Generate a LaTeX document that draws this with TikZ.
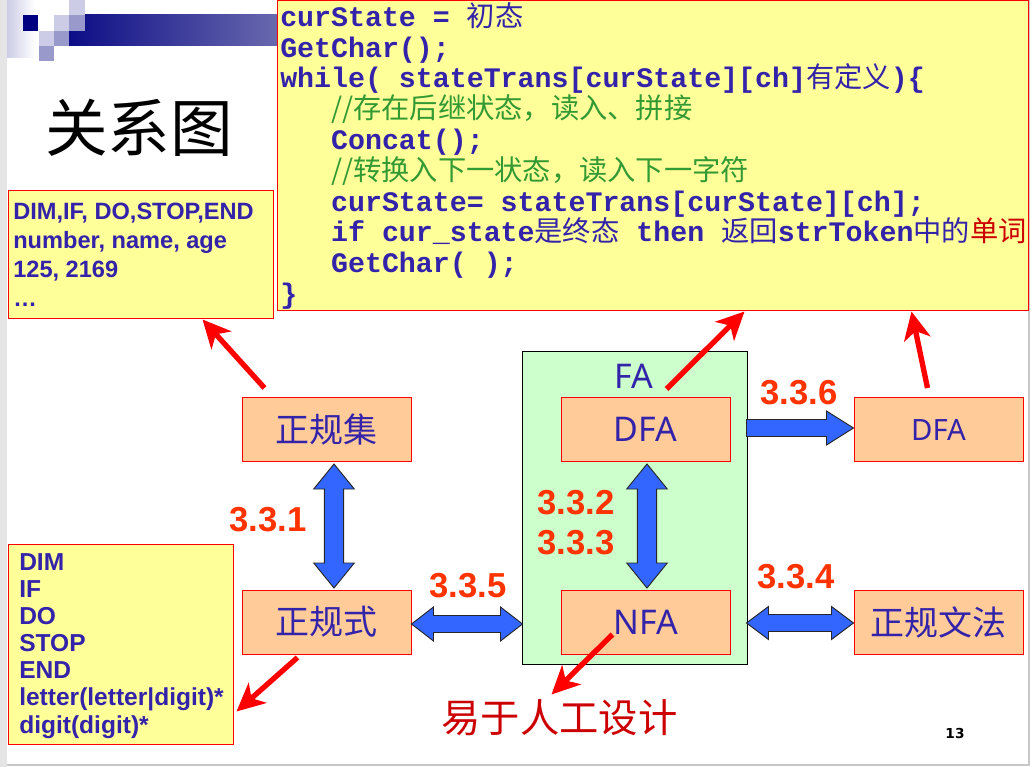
\documentclass[tikz,border=0pt]{standalone}
\usepackage{fontspec}
\setmainfont{Liberation Sans}
\newfontfamily\cjk{Noto Sans CJK SC}
\newfontfamily\latinsans{Noto Sans}
\newfontfamily\codefont{Liberation Mono}
\newfontfamily\numfont{DejaVu Sans}
\usetikzlibrary{arrows.meta,calc}

\definecolor{txtblue}{HTML}{3322AA}
\definecolor{cmtgreen}{HTML}{339933}
\definecolor{wordred}{HTML}{CC0000}
\definecolor{lblred}{HTML}{FF3300}
\definecolor{notefill}{HTML}{FFFF99}
\definecolor{boxfill}{HTML}{FFCC99}
\definecolor{fafill}{HTML}{CCFFCC}
\definecolor{blockblue}{HTML}{3366FF}
\definecolor{navy}{HTML}{000080}
\definecolor{barend}{HTML}{6868AE}
\definecolor{lav}{HTML}{CCCCE6}
\definecolor{lavmid}{HTML}{9999CC}

% CJK run inside a Latin line
\newcommand\zh[1]{{\mdseries\cjk #1}}
% three-character indent of the code font
\newcommand\ind{\hspace*{1.8em}}

% block arrows, drawn in pixel units from a tip point
\newcommand\vdblarrow[2]{% #1 top tip, #2 length
  \draw[blockarrow, shift={(#1)}] (0,0) -- (20.3,25) -- (9.7,25) -- (9.7,#2-25)
    -- (20.3,#2-25) -- (0,#2) -- (-20.3,#2-25) -- (-9.7,#2-25) -- (-9.7,25)
    -- (-20.3,25) -- cycle;}
\newcommand\hdblarrow[5]{% #1 left tip, #2 length, #3 shaft half, #4 head half, #5 head length
  \draw[blockarrow, shift={(#1)}] (0,0) -- (#5,-#4) -- (#5,-#3) -- (#2-#5,-#3)
    -- (#2-#5,-#4) -- (#2,0) -- (#2-#5,#4) -- (#2-#5,#3) -- (#5,#3) -- (#5,#4) -- cycle;}
\newcommand\hsglarrow[5]{% #1 tail centre, #2 length, #3 shaft half, #4 head half, #5 head length
  \draw[blockarrow, shift={(#1)}] (0,-#3) -- (#2-#5,-#3) -- (#2-#5,-#4) -- (#2,0)
    -- (#2-#5,#4) -- (#2-#5,#3) -- (0,#3) -- cycle;}

\tikzset{
  blockarrow/.style={fill=blockblue, draw=black!85, line width=0.7pt, line join=miter},
  stage/.style={draw=red, fill=boxfill, line width=0.75pt, minimum width=126.75pt,
    minimum height=48pt, inner sep=0pt, text=txtblue,
    font=\cjk\fontsize{25.5pt}{25.5pt}\selectfont},
  latinstage/.style={stage, font=\latinsans\fontsize{25.5pt}{25.5pt}\selectfont},
  note/.style={draw=red, fill=notefill, line width=0.75pt, inner sep=0pt},
  notetext/.style={inner sep=0pt, align=left, text=txtblue, anchor=west},
  lbl/.style={inner sep=0pt, text=lblred, font=\bfseries\fontsize{26pt}{26pt}\selectfont},
  pointer/.style={draw=red, line width=4pt, -{Stealth[length=21pt,width=20pt,inset=6pt]}},
}

\begin{document}
\begin{tikzpicture}[x=0.75pt,y=-0.75pt]
\useasboundingbox (0,0) rectangle (1032,767);

% slide background and frame
\fill[white] (0,0) rectangle (1032,767);
\fill[black!10] (0,0) rectangle (7,767);
\draw[black!22, line width=1.5pt] (1029,0) -- (1029,765) -- (7,765);

% corner ornament
\shade[left color=lav, right color=white] (7,0) rectangle (35,58);
\shade[left color=navy!95, right color=barend] (69,15) rectangle (277,46);
\fill[lav] (69,0) rectangle (85,15);
\fill[navy] (23,15) rectangle (38,31);
\fill[white] (38,15) rectangle (54,31);
\fill[lav] (54,15) rectangle (69,31);
\fill[lavmid] (69,15) rectangle (85,31);
\fill[lav] (39,31) rectangle (54,46);
\fill[lavmid] (54,31) rectangle (69,46);
\fill[lavmid] (39,46) rectangle (54,61);

% title
\node[inner sep=0pt, font=\cjk\fontsize{47pt}{47pt}\selectfont] (title) at (139,128) {关系图};

% note boxes
\node[note, minimum width=563.25pt, minimum height=231.75pt] (code) at (652.5,155.5) {};
\node[notetext, font=\codefont\bfseries\fontsize{21.2pt}{23.1pt}\selectfont] (codeText) at (280,156) {%
curState = \zh{初态}\\
GetChar();\\
while( stateTrans[curState][ch]\zh{有定义})\{\\
\ind{\color{cmtgreen}\zh{//存在后继状态，读入、拼接}}\\
\ind Concat();\\
\ind{\color{cmtgreen}\zh{//转换入下一状态，读入下一字符}}\\
\ind curState= stateTrans[curState][ch];\\
\ind if cur\_state\zh{是终态} then \zh{返回}strToken\zh{中的}{\color{wordred}\zh{单词}}\\
\ind GetChar( );\\
\}};

\node[note, minimum width=198.75pt, minimum height=96pt] (setBox) at (140.5,254) {};
\node[notetext, font=\bfseries\fontsize{17.7pt}{21.75pt}\selectfont] (setText) at (13,254.5)
  {DIM,IF, DO,STOP,END\\number, name, age\\125, 2169\\…};

\node[note, minimum width=168.75pt, minimum height=150pt] (exprBox) at (120.5,644) {};
\node[notetext, font=\bfseries\fontsize{18.4pt}{20.3pt}\selectfont] (exprText) at (19,646)
  {DIM\\IF\\DO\\STOP\\END\\letter(letter|digit)*\\digit(digit)*};

% automata group
\node[draw=black, fill=fafill, line width=0.75pt, minimum width=168.75pt,
  minimum height=234.75pt, inner sep=0pt] (fa) at (634.5,507.5) {};
\node[inner sep=0pt, text=txtblue, font=\latinsans\fontsize{25.5pt}{25.5pt}\selectfont] (faLabel) at (634,376) {FA};

% stages
\node[stage] (rs)   at (326.5,429.5) {正规集};
\node[stage] (re)   at (326.5,622)   {正规式};
\node[latinstage] (dfa)  at (645.5,429.5) {DFA};
\node[latinstage] (nfa)  at (645.5,622)   {NFA};
\node[latinstage, font=\latinsans\fontsize{22pt}{22pt}\selectfont] (dfaR) at (938.5,429.5) {DFA};
\node[stage] (gram) at (938.5,622)   {正规文法};

% conversions
\vdblarrow{$(rs.south)+(7.5,2)$}{124}
\vdblarrow{$(dfa.south)+(1.5,2)$}{124}
\hdblarrow{$(re.east)+(0,2)$}{111}{8.5}{17}{22}
\hdblarrow{$(gram.west)+(-107,1)$}{107}{8.5}{16.5}{22}
\hsglarrow{$(dfaR.west)+(-107,-1.5)$}{107}{8.5}{17}{27}

\node[lbl] (l331) at (268,520) {3.3.1};
\node[lbl] (l332) at (576,503) {3.3.2};
\node[lbl] (l333) at (576,543) {3.3.3};
\node[lbl] (l335) at (468,586) {3.3.5};
\node[lbl] (l336) at (799,393) {3.3.6};
\node[lbl] (l334) at (796,577) {3.3.4};

% remark under NFA
\node[inner sep=0pt, text=wordred, font=\cjk\fontsize{29.5pt}{29.5pt}\selectfont] (easy) at (559.5,717.5) {易于人工设计};

% pointers
\draw[pointer] ($(rs.north west)+(23,-9)$) -- ($(setBox.south west)+(195,1)$);
\draw[pointer] ($(re.south west)+(56,3)$) -- ($(exprBox.south east)+(3,-33)$);
\draw[pointer] ($(dfa.north west)+(106,-8)$) -- ($(code.south west)+(468,1)$);
\draw[pointer] ($(dfaR.north west)+(74,-9)$) -- ($(code.south west)+(635,1)$);
\draw[pointer] ($(nfa.north west)+(52,45)$) -- ($(easy.center)+(-8,-23)$);

% page number
\node[inner sep=0pt, font=\numfont\bfseries\fontsize{10.3pt}{10.3pt}\selectfont] (page) at (955,733) {13};
\end{tikzpicture}
\end{document}
